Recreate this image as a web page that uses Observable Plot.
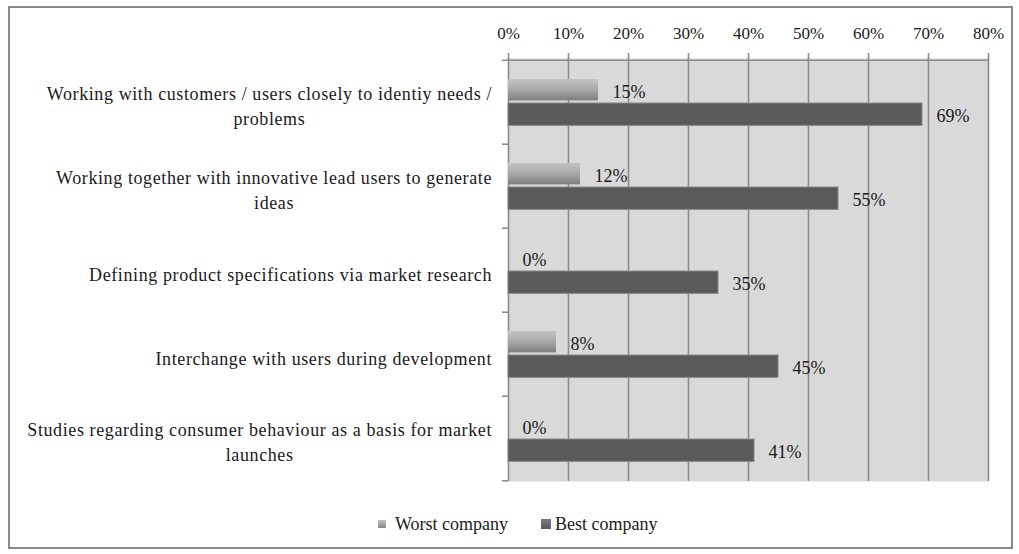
<!DOCTYPE html>
<html><head><meta charset="utf-8">
<script src="https://cdn.jsdelivr.net/npm/d3@7"></script>
<script src="https://cdn.jsdelivr.net/npm/@observablehq/plot@0.6"></script>
<style>
html,body{margin:0;padding:0;background:#fff;}
#wrap{position:relative;width:1019px;height:554px;overflow:hidden;font-family:"Liberation Serif","Times New Roman",serif;color:#1a1a1a;}
#chart{position:absolute;left:0;top:0;}
#border{position:absolute;left:8px;top:6px;width:1005px;height:543px;border:2px solid #8a8a8a;box-sizing:border-box;pointer-events:none;}
#legend{position:absolute;left:378px;top:512px;height:24px;display:flex;align-items:center;font-size:18px;}
#legend .sw{display:inline-block;margin-right:9px;}
#legend .item{display:flex;align-items:center;margin-right:33px;}
</style>
</head><body>
<div id="wrap"><div id="chart"></div><div id="legend"></div><div id="border"></div></div>
<script>
const categories = [
  "Working with customers / users closely to identiy needs / problems",
  "Working together with innovative lead users to generate ideas",
  "Defining product specifications via market research",
  "Interchange with users during development",
  "Studies regarding consumer behaviour as a basis for market launches"
];
const categoryLabels = [
  "Working with customers / users closely to identiy needs /\nproblems",
  "Working together with innovative lead users to generate\nideas",
  "Defining product specifications via market research",
  "Interchange with users during development",
  "Studies regarding consumer behaviour as a basis for market\nlaunches"
];
const seriesNames = ["Worst company", "Best company"];
const worstValues = [15, 12, 0, 8, 0];
const bestValues = [69, 55, 35, 45, 41];
const xTicks = [0, 10, 20, 30, 40, 50, 60, 70, 80];

const rows = categories.map((c, i) => ({category: c, label: categoryLabels[i], worst: worstValues[i], best: bestValues[i]}));

const H = 500, mT = 58, mB = 19;
const bw = (H - mT - mB) / categories.length;
const gridColor = "#8c8c8c";
const serif = "'Liberation Serif','Times New Roman',serif";

const chart = Plot.plot({
  width: 1019, height: H,
  marginTop: mT, marginBottom: mB, marginLeft: 508, marginRight: 31,
  style: {fontFamily: serif, fontSize: "18px", background: "transparent", color: "#1a1a1a", overflow: "visible"},
  x: {domain: [0, 80], axis: null},
  y: {domain: categories, padding: 0, axis: null},
  marks: [
    Plot.frame({fill: "#d9d9d9", stroke: null}),
    Plot.ruleX(xTicks, {stroke: gridColor, strokeWidth: 1.6}),
    Plot.axisX({anchor: "top", ticks: xTicks, tickFormat: d => d + "%", tickSize: 6, tickPadding: 14, stroke: gridColor, strokeWidth: 1.6, fontSize: 17, fill: "#1a1a1a", label: null}),
    Plot.ruleY(rows, {y: "category", x1: 0, x2: (d, i) => i === 0 ? 80 : 0, insetLeft: -6, dy: -bw / 2, stroke: gridColor, strokeWidth: 1.6}),
    Plot.ruleY(rows.slice(-1), {y: "category", x1: 0, x2: 0, insetLeft: -6, dy: bw / 2, stroke: gridColor, strokeWidth: 1.6}),
    Plot.barX(rows, {x: "worst", y: "category", insetTop: 19, insetBottom: bw - 41, fill: "url(#worstGrad)"}),
    Plot.barX(rows, {x: "best", y: "category", insetTop: 43, insetBottom: bw - 66, fill: "#595959", stroke: "#8a8a8a", strokeWidth: 1}),
    Plot.text(rows, {x: "worst", y: "category", text: d => d.worst + "%", dx: 14, dy: -10, textAnchor: "start", fontSize: 18, fill: "#1a1a1a"}),
    Plot.text(rows, {x: "best", y: "category", text: d => d.best + "%", dx: 14, dy: 14, textAnchor: "start", fontSize: 18, fill: "#1a1a1a"}),
    Plot.text(rows, {y: "category", text: "label", frameAnchor: "left", textAnchor: "middle", lineHeight: 1.39, dy: 2, fontSize: 18, fill: "#1a1a1a"})
  ]
});

document.getElementById("chart").appendChild(chart);

// gradient for the worst-company bars
const ns = "http://www.w3.org/2000/svg";
const defs = document.createElementNS(ns, "defs");
defs.innerHTML = '<linearGradient id="worstGrad" x1="0" y1="0" x2="0" y2="1"><stop offset="0" stop-color="#c4c4c4"/><stop offset="0.5" stop-color="#a8a8a8"/><stop offset="1" stop-color="#7e7e7e"/></linearGradient>';
chart.insertBefore(defs, chart.firstChild);

// right-align each centered category label block to a fixed edge
const textGroups = chart.querySelectorAll('g[aria-label="text"]');
const labelGroup = textGroups[textGroups.length - 1];
const svgRect = chart.getBoundingClientRect();
const rightEdge = 492;
labelGroup.querySelectorAll("text").forEach(t => {
  t.style.letterSpacing = "0.6px";
  const r = t.getBoundingClientRect();
  const delta = rightEdge - (r.right - svgRect.left);
  const tr = t.getAttribute("transform") || "";
  t.setAttribute("transform", `translate(${delta},0) ` + tr);
});

// legend
const legend = document.getElementById("legend");
const swatches = [
  {name: seriesNames[0], bg: "linear-gradient(#c0c0c0,#8a8a8a)", size: 8},
  {name: seriesNames[1], bg: "linear-gradient(#7a7a7a,#5a5a5a)", size: 10}
];
swatches.forEach(s => {
  const item = document.createElement("span");
  item.className = "item";
  const sw = document.createElement("span");
  sw.className = "sw";
  sw.style.width = s.size + "px";
  sw.style.height = s.size + "px";
  sw.style.background = s.bg;
  if (s.size > 8) sw.style.marginRight = "4px";
  item.appendChild(sw);
  item.appendChild(document.createTextNode(s.name));
  legend.appendChild(item);
});
</script>
</body></html>
